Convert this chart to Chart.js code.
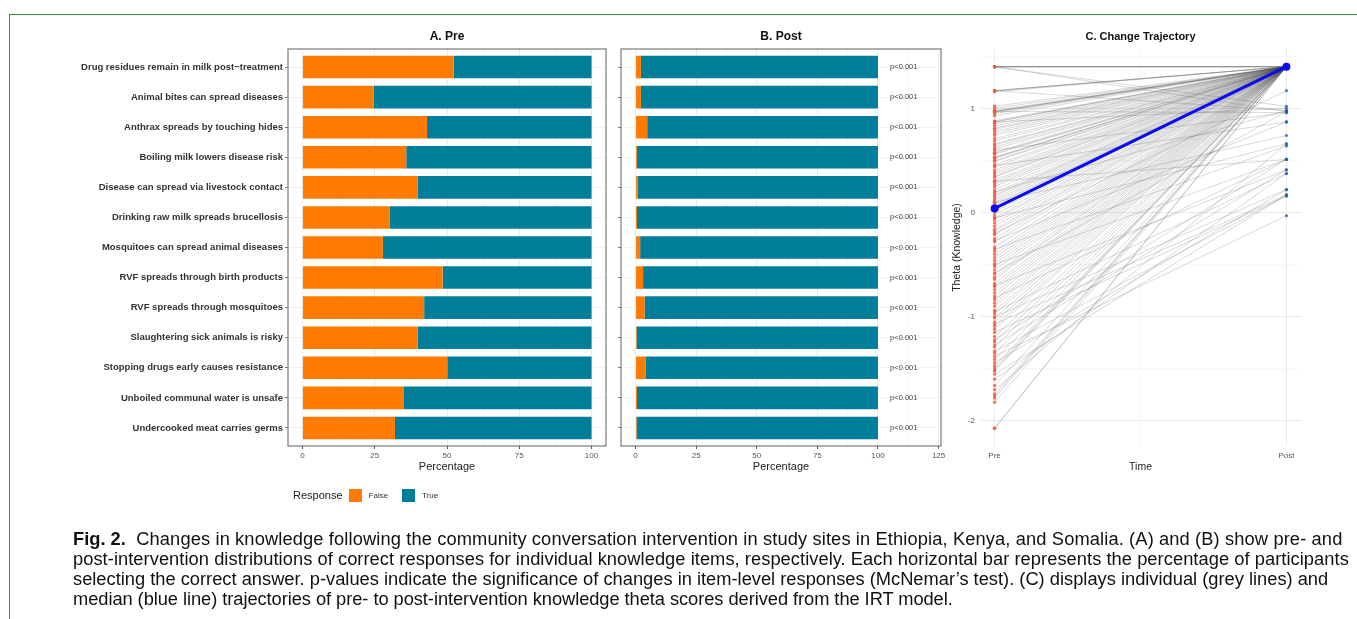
<!DOCTYPE html>
<html>
<head>
<meta charset="utf-8">
<title>Knowledge change</title>
<script src="https://cdn.jsdelivr.net/npm/chart.js@4.4.1/dist/chart.umd.min.js"></script>
<style>
  html, body { margin: 0; padding: 0; background: #fff; }
  body { width: 1357px; height: 619px; position: relative; overflow: hidden;
         font-family: "Liberation Sans", Arial, sans-serif; }
  canvas { position: absolute; left: 0; top: 0; }
  #frame { position: absolute; left: 9px; top: 14px; width: 1360px; height: 620px;
           border-top: 1px solid #3b8f3b; border-left: 1px solid #3b8f3b; }
  #legend { position: absolute; left: 293px; top: 487px; height: 16px; display: flex;
            align-items: center; color: #222; }
  #legend .title { font-size: 11px; margin-right: 6px; }
  #legend .key { width: 13px; height: 13px; margin-right: 7px; }
  #legend .lab { font-size: 8px; margin-right: 14px; color: #333; }
  #caption { position: absolute; left: 73px; top: 529px; font-size: 18.3px; line-height: 20px;
             color: #111; white-space: nowrap; }
  #caption span { display: block; }
</style>
</head>
<body>
<div id="frame"></div>
<canvas id="prePanel" width="1357" height="619"></canvas>
<canvas id="postPanel" width="1357" height="619"></canvas>
<canvas id="trajPanel" width="1357" height="619"></canvas>
<div id="legend"></div>
<div id="caption"><span style="letter-spacing:0.12px"><b style="letter-spacing:0">Fig. 2.</b>&nbsp; Changes in knowledge following the community conversation intervention in study sites in Ethiopia, Kenya, and Somalia. (A) and (B) show pre- and</span><span style="letter-spacing:0.05px">post-intervention distributions of correct responses for individual knowledge items, respectively. Each horizontal bar represents the percentage of participants</span><span>selecting the correct answer. p-values indicate the significance of changes in item-level responses (McNemar’s test). (C) displays individual (grey lines) and</span><span style="letter-spacing:-0.06px">median (blue line) trajectories of pre- to post-intervention knowledge theta scores derived from the IRT model.</span></div>

<script>
// ---- data -------------------------------------------------------------
const items = [
  "Drug residues remain in milk post\u2212treatment",
  "Animal bites can spread diseases",
  "Anthrax spreads by touching hides",
  "Boiling milk lowers disease risk",
  "Disease can spread via livestock contact",
  "Drinking raw milk spreads brucellosis",
  "Mosquitoes can spread animal diseases",
  "RVF spreads through birth products",
  "RVF spreads through mosquitoes",
  "Slaughtering sick animals is risky",
  "Stopping drugs early causes resistance",
  "Unboiled communal water is unsafe",
  "Undercooked meat carries germs"
];
const preFalse  = [52.3, 24.7, 43.1, 35.9, 39.9, 30.1, 27.8, 48.5, 42.1, 39.9, 50.1, 34.9, 32.0];
const preTrue   = [47.7, 75.3, 56.9, 64.1, 60.1, 69.9, 72.2, 51.5, 57.9, 60.1, 49.9, 65.1, 68.0];
const postFalse = [2.2, 2.2, 4.8, 0.5, 0.8, 0.6, 1.9, 3.1, 3.7, 0.4, 4.1, 0.6, 0.4];
const postTrue  = [97.8, 97.8, 95.2, 99.5, 99.2, 99.4, 98.1, 96.9, 96.3, 99.6, 95.9, 99.4, 99.6];
const pValues = ["p<0.001", "p<0.001", "p<0.001", "p<0.001", "p<0.001", "p<0.001", "p<0.001",
                 "p<0.001", "p<0.001", "p<0.001", "p<0.001", "p<0.001", "p<0.001"];
const responseLabels = ["False", "True"];
const pctTicksPre  = [0, 25, 50, 75, 100];
const pctTicksPost = [0, 25, 50, 75, 100, 125];
const timeLabels = ["Pre", "Post"];
const thetaTicks = [-2, -1, 0, 1];

// individual theta scores, one entry per participant (pre and post in the same order)
const thetaPre = [
  1.40, 1.40, 1.40, 1.40, 1.40, 1.17, 1.17, 1.17, 1.16, 1.02, 1.00, 0.98, 0.97, 0.97, 0.97,
  0.96, 0.95, 0.93, 0.88, 0.87, 0.87, 0.85, 0.83, 0.81, 0.80, 0.78, 0.76, 0.74, 0.71, 0.69,
  0.66, 0.65, 0.63, 0.61, 0.58, 0.57, 0.56, 0.53, 0.53, 0.52, 0.50, 0.49, 0.46, 0.44, 0.41,
  0.39, 0.37, 0.35, 0.34, 0.31, 0.29, 0.27, 0.25, 0.22, 0.19, 0.17, 0.16, 0.14, 0.12, 0.10,
  0.08, 0.07, 0.05, 0.04, 0.03, 0.01, -0.02, -0.05, -0.07, -0.10, -0.13, -0.16, -0.18, -0.21,
  -0.25, -0.28, -0.33, -0.37, -0.40, -0.43, -0.46, -0.49, -0.52, -0.55, -0.59, -0.62, -0.64,
  -0.68, -0.71, -0.74, -0.77, -0.80, -0.84, -0.87, -0.90, -0.94, -0.97, -1.01, -1.05, -1.09,
  -1.12, -1.19, -1.24, -1.29, -1.35, -1.41, -1.47, -1.49, -1.51, -1.52, -1.66, -1.74, -1.76,
  -1.78, -1.82, -2.07, -2.07,
  1.40, 1.40, 1.17, 0.87, 0.97, 0.60, 0.45, 0.30, 0.20, 0.10, -0.05, -0.20, -0.27, -0.35,
  -0.50, -0.58, -0.70, -0.82, -0.95, -1.00, -1.07, -1.15, -1.22, -1.27, -1.33, -1.38, -1.44,
  -1.55, -1.60, -1.70
];
const thetaPost = [
  1.40, 1.40, 1.40, 1.40, 1.40, 1.40, 1.40, 1.40, 1.40, 1.40, 1.40, 1.40, 1.40, 1.40, 1.40,
  1.40, 1.40, 1.40, 1.40, 1.40, 1.40, 1.40, 1.40, 1.40, 1.40, 1.40, 1.40, 1.40, 1.40, 1.40,
  1.40, 1.40, 1.40, 1.40, 1.40, 1.40, 1.40, 1.40, 1.40, 1.40, 1.40, 1.40, 1.40, 1.40, 1.40,
  1.40, 1.40, 1.40, 1.40, 1.40, 1.40, 1.40, 1.40, 1.40, 1.40, 1.40, 1.40, 1.40, 1.40, 1.40,
  1.40, 1.40, 1.40, 1.40, 1.40, 1.40, 1.40, 1.40, 1.40, 1.40, 1.40, 1.40, 1.40, 1.40,
  1.40, 1.40, 1.40, 1.40, 1.40, 1.40, 1.40, 1.40, 1.40, 1.40, 1.40, 1.40, 1.40,
  1.40, 1.40, 1.40, 1.40, 1.40, 1.40, 1.40, 1.40, 1.40, 1.40, 1.40, 1.40, 1.40,
  1.40, 1.40, 1.40, 1.40, 1.40, 1.40, 1.40, 1.40, 1.40, 1.40, 1.40, 1.40, 1.40,
  1.40, 1.40, 1.40, 1.40,
  0.97, 1.02, 0.98, 1.00, 0.96, 0.96, 0.87, 0.51, 0.98, 0.74, 0.66, 1.17, 0.87, 0.64,
  0.51, 0.97, 0.41, 0.51, 0.375, 0.22, 0.17, 0.16, 0.51, 0.41, 0.16, -0.03, 0.22,
  0.17, 0.375, 0.66
];
const medianPre  = [0.04];
const medianPost = [1.40];

// ---- styling ----------------------------------------------------------
const FALSE_COL = "#FF7A00";
const TRUE_COL  = "#017F9A";
const FONT = '"Liberation Sans", Arial, sans-serif';
Chart.defaults.font.family = FONT;
Chart.defaults.animation = false;

const PANEL_TOP = 49, PANEL_BOTTOM = 446, CANVAS_H = 619;

// full rectangle around a panel (bw theme)
const panelBox = {
  id: 'panelBox',
  afterDatasetsDraw(chart) {
    const a = chart.chartArea, ctx = chart.ctx;
    ctx.save();
    ctx.strokeStyle = '#7a7a7a';
    ctx.lineWidth = 1.2;
    ctx.strokeRect(a.left, a.top, a.width, a.height);
    ctx.restore();
  }
};

// significance labels placed right of the post bars
const pLabels = {
  id: 'pLabels',
  afterDatasetsDraw(chart) {
    const {ctx, scales: {x, y}} = chart;
    ctx.save();
    ctx.font = '7.5px ' + FONT;
    ctx.fillStyle = '#444';
    ctx.textAlign = 'left';
    ctx.textBaseline = 'middle';
    pValues.forEach((t, i) => ctx.fillText(t, x.getPixelForValue(105), y.getPixelForValue(i)));
    ctx.restore();
  }
};

function withMinor(major) {
  const out = [];
  major.forEach((v, i) => {
    out.push(v);
    if (i < major.length - 1) out.push((v + major[i + 1]) / 2);
  });
  return out;
}

function barPanel(canvasId, title, falseVals, trueVals, majorTicks, xMin, xMax, left, right, showLabels, extraPlugins) {
  const xHeight = 27.6;
  return new Chart(document.getElementById(canvasId), {
    type: 'bar',
    data: {
      datasets: [
        { label: responseLabels[0], data: falseVals.map((v, i) => ({x: v, y: i})),
          backgroundColor: FALSE_COL, borderWidth: 0 },
        { label: responseLabels[1], data: trueVals.map((v, i) => ({x: v, y: i})),
          backgroundColor: TRUE_COL, borderWidth: 0 }
      ]
    },
    options: {
      indexAxis: 'y',
      responsive: false,
      devicePixelRatio: 1,
      barPercentage: 0.75,
      categoryPercentage: 1,
      layout: { autoPadding: false,
                padding: { left: 0, right: 1357 - right, top: 0, bottom: CANVAS_H - PANEL_BOTTOM - xHeight } },
      plugins: {
        legend: { display: false },
        tooltip: { enabled: false },
        title: { display: true, text: title, fullSize: false, color: '#111',
                 font: { size: 12, weight: 'bold', lineHeight: 1 },
                 padding: { top: 31, bottom: PANEL_TOP - 31 - 12 } }
      },
      scales: {
        x: {
          type: 'linear', min: xMin, max: xMax, stacked: true, offset: false,
          afterBuildTicks: s => { s.ticks = withMinor(majorTicks).map(v => ({value: v})); },
          ticks: { autoSkip: false, maxRotation: 0, padding: 2, color: '#555',
                   font: { size: 8 },
                   callback: v => majorTicks.includes(v) ? String(v) : '' },
          grid: { offset: false,
                  color: c => majorTicks.includes(c.tick.value) ? '#ebebeb' : '#f4f4f4',
                  lineWidth: c => majorTicks.includes(c.tick.value) ? 1 : 0.6,
                  tickLength: 3,
                  tickColor: c => majorTicks.includes(c.tick.value) ? '#555' : 'rgba(0,0,0,0)' },
          border: { display: false },
          title: { display: true, text: 'Percentage', color: '#222',
                   font: { size: 11, lineHeight: 1.2 }, padding: { top: 0, bottom: 0 } },
          afterFit: s => { s.height = xHeight; }
        },
        y: {
          type: 'linear', reverse: true, min: -0.6, max: items.length - 1 + 0.6, stacked: true,
          offset: false,
          afterBuildTicks: s => { s.ticks = items.map((_, i) => ({value: i})); },
          ticks: { autoSkip: false, padding: 2, color: '#333',
                   font: { size: 9.5, weight: 'bold' },
                   callback: v => showLabels ? items[v] : '' },
          grid: { offset: false, color: '#ececec', lineWidth: 0.8, tickLength: 3, tickColor: '#555' },
          border: { display: false },
          afterFit: s => { s.width = left; }
        }
      }
    },
    plugins: [panelBox].concat(extraPlugins)
  });
}

barPanel('prePanel', 'A. Pre', preFalse, preTrue, pctTicksPre, -5, 105, 288, 606, true, []);
barPanel('postPanel', 'B. Post', postFalse, postTrue, pctTicksPost, -6, 126, 621, 941, false, [pLabels]);

// ---- trajectory panel ---------------------------------------------------
const trajDatasets = [];
trajDatasets.push({
  label: 'median', order: 0,
  data: [{x: 1, y: medianPre[0]}, {x: 2, y: medianPost[0]}],
  borderColor: '#0a0af5', borderWidth: 3,
  pointRadius: 4, pointBackgroundColor: '#0a0af5', pointBorderWidth: 0
});
trajDatasets.push({
  label: 'pre', order: 1, showLine: false,
  data: thetaPre.map(v => ({x: 1, y: v})),
  pointRadius: 1.7, pointBackgroundColor: 'rgba(238,90,60,0.8)', pointBorderWidth: 0
});
trajDatasets.push({
  label: 'post', order: 1, showLine: false,
  data: thetaPost.map(v => ({x: 2, y: v})),
  pointRadius: 1.6, pointBackgroundColor: 'rgba(40,100,170,0.8)', pointBorderWidth: 0
});
thetaPre.forEach((v, i) => {
  trajDatasets.push({
    label: 'p' + i, order: 2,
    data: [{x: 1, y: v}, {x: 2, y: thetaPost[i]}],
    borderColor: 'rgba(70,70,70,0.26)', borderWidth: 0.8, pointRadius: 0
  });
});

const thetaMinor = [-1.5, -0.5, 0.5, 1.5];
const cXHeight = 27.3;
new Chart(document.getElementById('trajPanel'), {
  type: 'line',
  data: { datasets: trajDatasets },
  options: {
    responsive: false,
    devicePixelRatio: 1,
    layout: { autoPadding: false,
              padding: { left: 945, right: 1357 - 1301, top: 0, bottom: CANVAS_H - PANEL_BOTTOM - cXHeight } },
    plugins: {
      legend: { display: false },
      tooltip: { enabled: false },
      title: { display: true, text: 'C. Change Trajectory', fullSize: false, color: '#111',
               font: { size: 11, weight: 'bold', lineHeight: 1 },
               padding: { top: 31.5, bottom: PANEL_TOP - 31.5 - 11 } }
    },
    scales: {
      x: {
        type: 'linear', min: 0.95, max: 2.05,
        afterBuildTicks: s => { s.ticks = [1, 1.5, 2].map(v => ({value: v})); },
        ticks: { autoSkip: false, maxRotation: 0, padding: 5, color: '#555', font: { size: 8 },
                 callback: v => v === 1 ? timeLabels[0] : (v === 2 ? timeLabels[1] : '') },
        grid: { color: c => c.tick.value === 1.5 ? '#f3f3f3' : '#ebebeb',
                lineWidth: c => c.tick.value === 1.5 ? 0.6 : 1, drawTicks: false },
        border: { display: false },
        title: { display: true, text: 'Time', color: '#222',
                 font: { size: 10.5, lineHeight: 1.2 }, padding: { top: 0, bottom: 0 } },
        afterFit: s => { s.height = cXHeight; }
      },
      y: {
        type: 'linear', min: -2.24, max: 1.57,
        afterBuildTicks: s => { s.ticks = thetaTicks.concat(thetaMinor).sort((a, b) => a - b).map(v => ({value: v})); },
        ticks: { autoSkip: false, padding: 5, color: '#555', font: { size: 8 },
                 callback: v => thetaTicks.includes(v) ? String(v) : '' },
        grid: { color: c => thetaTicks.includes(c.tick.value) ? '#ebebeb' : '#f3f3f3',
                lineWidth: c => thetaTicks.includes(c.tick.value) ? 1 : 0.6, drawTicks: false },
        border: { display: false },
        title: { display: true, text: 'Theta (Knowledge)', color: '#222',
                 font: { size: 10.5, lineHeight: 1.2 }, padding: { top: 5.7, bottom: 0 } },
        afterFit: s => { s.width = 980 - 945; }
      }
    }
  }
});

// ---- legend ------------------------------------------------------------
const legend = document.getElementById('legend');
const lt = document.createElement('span');
lt.className = 'title';
lt.textContent = 'Response';
legend.appendChild(lt);
[FALSE_COL, TRUE_COL].forEach((col, i) => {
  const k = document.createElement('span');
  k.className = 'key';
  k.style.background = col;
  legend.appendChild(k);
  const l = document.createElement('span');
  l.className = 'lab';
  l.textContent = responseLabels[i];
  legend.appendChild(l);
});
</script>
</body>
</html>
